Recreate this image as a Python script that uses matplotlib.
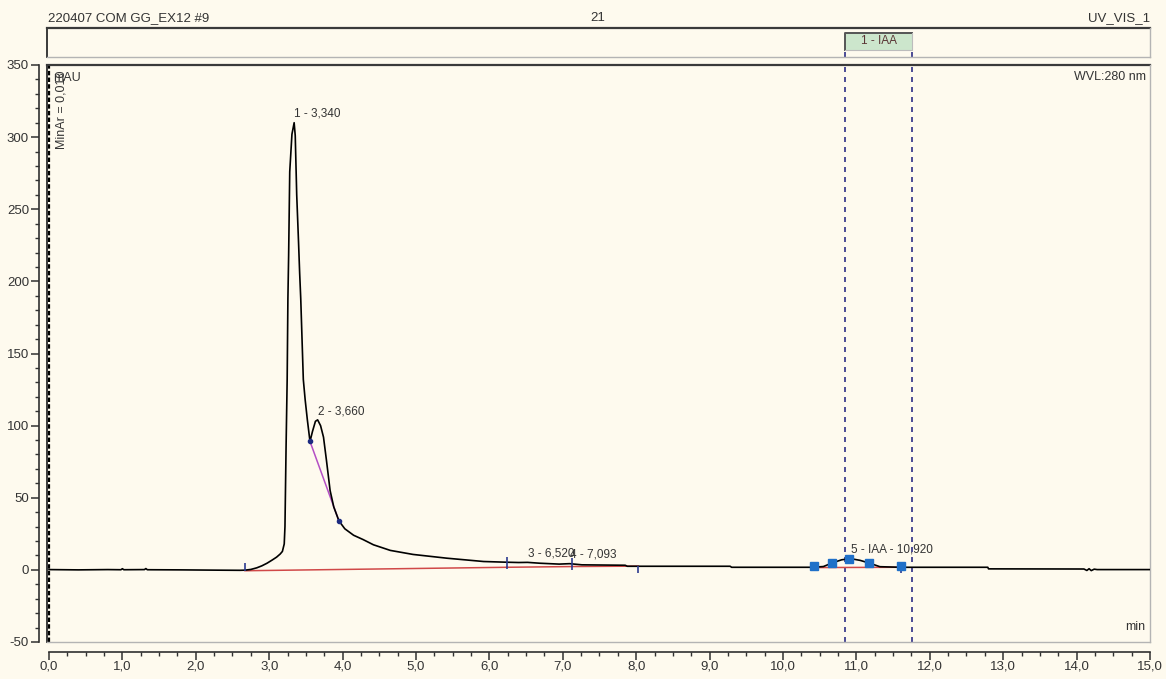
import matplotlib
matplotlib.use("Agg")
import matplotlib.pyplot as plt
import matplotlib.ticker as mticker
from matplotlib.patches import Rectangle
from matplotlib.lines import Line2D

plt.rcParams['font.family'] = ['Liberation Sans', 'DejaVu Sans']

# chromatogram trace (min, mAU)
time = [0.00, 0.40, 0.80, 0.98, 1.00, 1.02, 1.30, 1.32, 1.34, 1.80,
        2.30, 2.60, 2.67, 2.75, 2.83, 2.90, 2.97, 3.04, 3.10, 3.15,
        3.18, 3.205, 3.215, 3.23, 3.245, 3.255, 3.265, 3.28, 3.31, 3.34,
        3.355, 3.375, 3.40, 3.415, 3.43, 3.465, 3.49, 3.52, 3.556, 3.59,
        3.63, 3.66, 3.70, 3.74, 3.78, 3.83, 3.88, 3.95, 4.03, 4.15,
        4.28, 4.42, 4.65, 4.96, 5.42, 5.92, 6.24, 6.40, 6.52, 6.69,
        6.95, 7.093, 7.26, 7.85, 7.88, 9.28, 9.30, 10.40, 10.55, 10.67,
        10.80, 10.92, 11.05, 11.17, 11.32, 11.60, 12.79, 12.80, 14.10, 14.14,
        14.17, 14.20, 14.24, 14.28, 15.00]
signal = [0.2, 0.0, 0.2, 0.1, 0.8, 0.1, 0.2, 0.9, 0.1, 0.0,
          -0.2, -0.3, -0.2, 0.3, 1.4, 2.8, 4.6, 6.8, 8.8, 11.0,
          12.8, 18.0, 30.0, 85.0, 132.0, 188.0, 218.0, 276.0, 302.0, 310.0,
          301.0, 260.0, 227.0, 206.0, 188.0, 132.0, 118.0, 104.0, 89.0, 96.0,
          103.0, 104.0, 100.0, 92.0, 76.0, 55.0, 43.6, 34.0, 28.5, 24.0,
          21.0, 17.4, 13.5, 10.7, 8.1, 5.8, 5.3, 5.1, 5.2, 4.6,
          4.0, 4.3, 3.5, 3.2, 2.5, 2.5, 1.8, 1.8, 2.3, 4.8,
          7.0, 7.8, 6.6, 4.8, 2.2, 1.8, 1.8, 0.7, 0.6, -0.4,
          0.8, -0.5, 0.5, 0.2, 0.2]

# integrated peaks
peak_labels = ["1 - 3,340", "2 - 3,660", "3 - 6,520", "4 - 7,093", "5 - IAA - 10,920"]
peak_rt = [3.340, 3.660, 6.520, 7.093, 10.920]
peak_height = [310.0, 104.0, 5.2, 4.3, 7.8]

# baselines and skim line
baseline_t = [[2.67, 6.24], [6.24, 7.12, 8.03], [10.42, 11.61]]
baseline_v = [[-0.6, 1.8], [1.8, 2.3, 2.6], [1.6, 1.8]]
skim_t = [3.556, 3.95]
skim_v = [89.0, 34.0]

# peak delimiters
delim_t = [2.67, 6.24, 7.12, 8.03, 11.61]
delim_lo = [-1.0, 0.7, 0.0, -2.0, -2.0]
delim_hi = [4.6, 8.8, 8.4, 2.5, 2.5]

# IAA window markers
iaa_t = [10.42, 10.67, 10.90, 11.17, 11.61]
iaa_v = [2.5, 4.9, 7.7, 4.9, 2.5]
window = (10.85, 11.76)

bg = '#fefaee'
txt = '#333333'
W, H = 1166, 679
fig = plt.figure(figsize=(W / 100, H / 100), dpi=100, facecolor=bg)


def add_panel(x0, y0, x1, y1):
    return fig.add_axes([x0 / W, 1 - y1 / H, (x1 - x0) / W, (y1 - y0) / H])


def box_edges(ax, dark='#3a3a3a', light='#b4b4b4'):
    tr = ax.transAxes
    for xs, ys, c, lw in [([0, 1], [1, 1], dark, 1.6), ([0, 0], [0, 1], dark, 1.4),
                          ([0, 1], [0, 0], light, 1.0), ([1, 1], [0, 1], light, 1.0)]:
        ax.add_line(Line2D(xs, ys, transform=tr, color=c, lw=lw, clip_on=False, zorder=5))


ax = add_panel(47, 65, 1150, 642)
top = add_panel(47, 28, 1150, 57)

for a in (ax, top):
    a.set_facecolor(bg)
    a.set_xlim(-0.027, 15.0)
    for s in a.spines.values():
        s.set_visible(False)
    box_edges(a)

top.set_ylim(0, 1)
top.set_xticks([])
top.set_yticks([])

# main axes
ax.set_ylim(-50, 350)
ax.spines['left'].set_visible(True)
ax.spines['left'].set_position(('outward', 6))
ax.spines['left'].set_bounds(-50, 350)
ax.spines['bottom'].set_visible(True)
ax.spines['bottom'].set_position(('outward', 7))
ax.spines['bottom'].set_bounds(0, 15)
for s in ('left', 'bottom'):
    ax.spines[s].set_color('#303030')
    ax.spines[s].set_linewidth(1.2)

ax.xaxis.set_major_locator(mticker.MultipleLocator(1.0))
ax.xaxis.set_minor_locator(mticker.MultipleLocator(0.25))
ax.yaxis.set_major_locator(mticker.MultipleLocator(50))
ax.yaxis.set_minor_locator(mticker.MultipleLocator(10))
ax.xaxis.set_major_formatter(mticker.FuncFormatter(lambda v, p: f"{v:.1f}".replace('.', ',')))
ax.yaxis.set_major_formatter(mticker.FuncFormatter(lambda v, p: f"{v:.0f}"))
ax.tick_params(which='major', direction='out', length=6, width=1.1, color='#303030',
               labelsize=9.5, labelcolor=txt)
ax.tick_params(axis='x', which='major', pad=0.5)
ax.tick_params(axis='y', which='major', pad=1)
ax.tick_params(which='minor', direction='out', length=3, width=1.0, color='#303030')

# retention window
for t in window:
    ax.axvline(t, color='#2e2e86', lw=1.2, ls=(0, (3, 3)), zorder=3)
    top.plot([t, t], [0, 0.24], color='#2e2e86', lw=1.2, ls=(0, (3, 3)))
top.add_patch(Rectangle((window[0], 0.24), window[1] - window[0], 0.59,
                        facecolor='#cce6cc', edgecolor='none'))
top.plot([window[0], window[0], window[1]], [0.24, 0.83, 0.83], color='#555555', lw=1.4)
top.plot([window[0], window[1], window[1]], [0.24, 0.24, 0.83], color='#bcbcbc', lw=0.8)
top.text(sum(window) / 2, 0.54, "1 - IAA", ha='center', va='center', fontsize=8.5, color='#5a3535')

# event marker at start
ax.axvline(0.0, color='black', lw=1.6, ls=(0, (2, 1)), zorder=4)
ax.text(0.17, 346, "MinAr = 0,010", rotation=90, ha='center', va='top', fontsize=9, color=txt)

# baselines, skim and trace
for bt, bv in zip(baseline_t, baseline_v):
    ax.plot(bt, bv, color='#d04848', lw=1.1, zorder=4)
ax.plot(skim_t, skim_v, color='#b44fc4', lw=1.1, zorder=4)
ax.plot(time, signal, color='black', lw=1.2, zorder=5)
ax.plot(skim_t, skim_v, 'o', color='#1c2a80', ms=3, zorder=6)
ax.vlines(delim_t, delim_lo, delim_hi, color='#2c3a90', lw=1.2, zorder=6)
ax.plot(iaa_t, iaa_v, 's', color='#1f70c8', ms=6, zorder=7)

for lab, rt, h in zip(peak_labels, peak_rt, peak_height):
    ax.annotate(lab, (rt, h), xytext=(0, 2), textcoords='offset points',
                ha='left', va='bottom', fontsize=8.5, color=txt, zorder=8)

ax.text(0.006, 0.978, "mAU", transform=ax.transAxes, ha='left', va='center', fontsize=9, color=txt)
ax.text(0.996, 0.98, "WVL:280 nm", transform=ax.transAxes, ha='right', va='center', fontsize=9, color=txt)
ax.text(0.996, 0.026, "min", transform=ax.transAxes, ha='right', va='center', fontsize=9, color=txt)

fig.text(48 / W, 1 - 18 / H, "220407 COM GG_EX12 #9", ha='left', va='center', fontsize=9.5, color=txt)
fig.text(598 / W, 1 - 18 / H, "21", ha='center', va='center', fontsize=9.5, color=txt)
fig.text(1150 / W, 1 - 18 / H, "UV_VIS_1", ha='right', va='center', fontsize=9.5, color=txt)

fig.savefig("out.png", dpi=100, facecolor=bg)
